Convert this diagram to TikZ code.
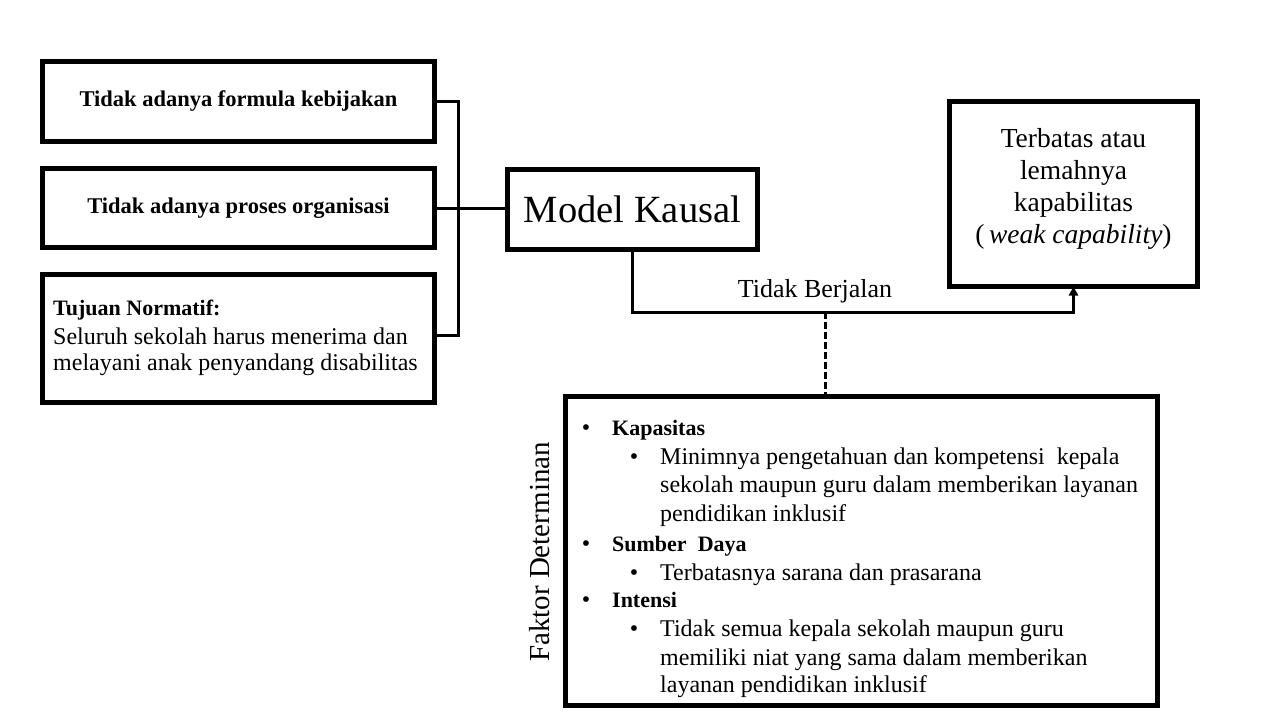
\documentclass[tikz,border=0pt]{standalone}
\usepackage{fontspec}
\setmainfont{Liberation Serif}
\usetikzlibrary{arrows.meta}
\begin{document}
\begin{tikzpicture}[x=1pt,y=-1pt,
  box/.style={draw, line width=5pt, inner sep=0pt},
  conn/.style={line width=3pt},
  txt/.style={inner sep=0pt, anchor=base west, font=\fontsize{24}{28}\selectfont},
  head/.style={inner sep=0pt, anchor=base west, font=\fontsize{22}{28}\selectfont\bfseries},
  bul/.style={inner sep=0pt, anchor=base, font=\fontsize{24}{28}\selectfont}]
\useasboundingbox (0,0) rectangle (1280,720);

% left boxes
\node[box, minimum width=392pt, minimum height=80pt, font=\fontsize{22.5}{27}\selectfont\bfseries] (b1) at (238.5,101.5) {Tidak adanya formula kebijakan};
\node[box, minimum width=392pt, minimum height=79pt, font=\fontsize{22.5}{27}\selectfont\bfseries] (b2) at (238.5,208) {Tidak adanya proses organisasi};
\node[box, minimum width=392pt, minimum height=128pt] (b3) at (238.5,338.5) {};
\node[head] (b3a) at (53,315) {Tujuan Normatif:};
\node[txt] (b3b) at (53,344) {Seluruh sekolah harus menerima dan};
\node[txt] (b3c) at (53,370) {melayani anak penyandang disabilitas};

% central and right boxes
\node[box, minimum width=250pt, minimum height=80pt, font=\fontsize{38.5}{40}\selectfont] (mk) at (632.5,209.5) {Model Kausal};
\node[box, minimum width=248pt, minimum height=185pt] (rb) at (1073.5,194) {};
\node[inner sep=0pt, align=center, font=\fontsize{27.5}{32}\selectfont] (rbt) at (1073.5,189)
  {Terbatas atau\\lemahnya\\kapabilitas\\(\,\textit{weak capability})};

% bottom box
\node[box, minimum width=592pt, minimum height=309pt] (bb) at (861.5,551) {};
\node[rotate=90, inner sep=0pt, font=\fontsize{29}{29}\selectfont] (fd) at (540,552) {Faktor Determinan};

\node[bul] (p1) at (586,435) {•};
\node[head] (h1) at (612,435) {Kapasitas};
\node[bul] (q1) at (634,464) {•};
\node[txt] (t11) at (660,464) {Minimnya pengetahuan dan kompetensi\ \ kepala};
\node[txt] (t12) at (660,492) {sekolah maupun guru dalam memberikan layanan};
\node[txt] (t13) at (660,521) {pendidikan inklusif};
\node[bul] (p2) at (586,551) {•};
\node[head] (h2) at (612,551) {Sumber\ \ Daya};
\node[bul] (q2) at (634,580) {•};
\node[txt] (t21) at (660,580) {Terbatasnya sarana dan prasarana};
\node[bul] (p3) at (586,607) {•};
\node[head] (h3) at (612,607) {Intensi};
\node[bul] (q3) at (634,636) {•};
\node[txt] (t31) at (660,636) {Tidak semua kepala sekolah maupun guru};
\node[txt] (t32) at (660,665) {memiliki niat yang sama dalam memberikan};
\node[txt] (t33) at (660,692) {layanan pendidikan inklusif};

% connectors
\coordinate (bus) at (458,0);
\draw[conn] (b1.east) -- (b1.east -| bus) |- ([yshift=3.5pt]b3.east);
\draw[conn] (b2.east) -- (b2.east -| mk.west);
\coordinate (tb) at (632.5,312);
\draw[conn, -{Triangle[length=9pt,width=9pt]}, shorten >=-2.5pt] (mk.south) -- (tb) -| (rb.south);
\node[inner sep=0pt, font=\fontsize{26}{26}\selectfont] (lbl) at (815,291) {Tidak Berjalan};
\coordinate (dtop) at (825,312);
\draw[conn, dash pattern=on 7pt off 3pt] (dtop) -- (dtop |- bb.north);
\end{tikzpicture}
\end{document}
